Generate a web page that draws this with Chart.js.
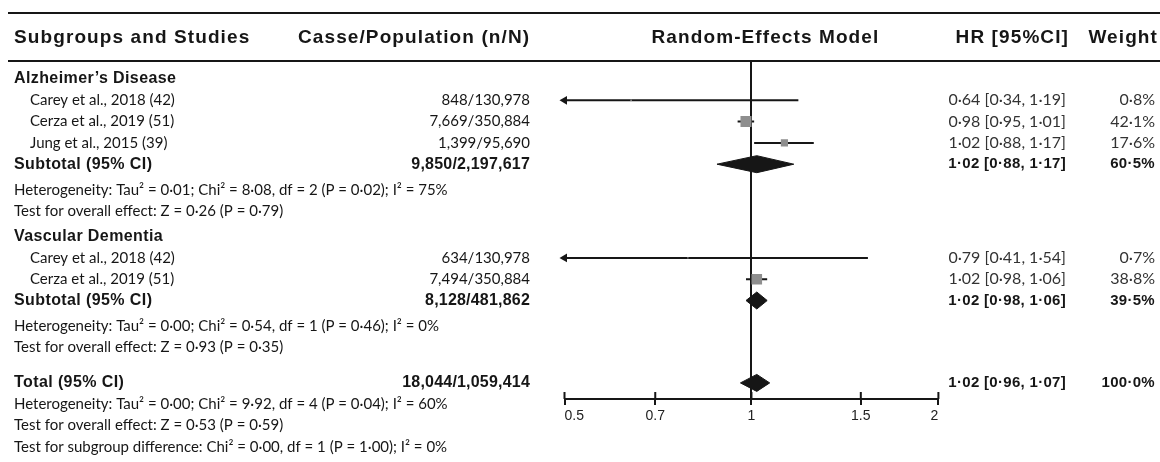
<!DOCTYPE html>
<html>
<head>
<meta charset="utf-8">
<title>Forest plot</title>
<script src="https://cdn.jsdelivr.net/npm/chart.js@4.4.1/dist/chart.umd.min.js"></script>
<style>
  html, body { margin: 0; padding: 0; background: #fff; }
  #wrap { width: 1160px; height: 462px; }
</style>
</head>
<body>
<div id="wrap"><canvas id="forest" width="1160" height="462"></canvas></div>
<script>
// ---- data ----
var headers = ['Subgroups and Studies', 'Casse/Population (n/N)', 'Random-Effects Model', 'HR [95%CI]', 'Weight'];

var groupNames = ['Alzheimer\u2019s Disease', 'Vascular Dementia'];
var groupCases = ['9,850/2,197,617', '8,128/481,862'];
var groupHR = [1.02, 1.02];
var groupLow = [0.88, 0.98];
var groupHigh = [1.17, 1.06];
var groupHRText = ['1·02 [0·88, 1·17]', '1·02 [0·98, 1·06]'];
var groupWeightText = ['60·5%', '39·5%'];
var groupNotes = [
  ['Heterogeneity: Tau² = 0·01; Chi² = 8·08, df = 2 (P = 0·02); I² = 75%', 'Test for overall effect: Z = 0·26 (P = 0·79)'],
  ['Heterogeneity: Tau² = 0·00; Chi² = 0·54, df = 1 (P = 0·46); I² = 0%', 'Test for overall effect: Z = 0·93 (P = 0·35)']
];

var studyNames = ['Carey et al., 2018 (42)', 'Cerza et al., 2019 (51)', 'Jung et al., 2015 (39)', 'Carey et al., 2018 (42)', 'Cerza et al., 2019 (51)'];
var studyGroup = [0, 0, 0, 1, 1];
var studyCases = ['848/130,978', '7,669/350,884', '1,399/95,690', '634/130,978', '7,494/350,884'];
// plotted positions
var studyHR = [0.64, 0.98, 1.13, 0.79, 1.02];
var studyLow = [0.34, 0.95, 1.01, 0.41, 0.98];
var studyHigh = [1.19, 1.01, 1.26, 1.54, 1.06];
var studyWeight = [0.8, 42.1, 17.6, 0.7, 38.8];
var studyHRText = ['0·64 [0·34, 1·19]', '0·98 [0·95, 1·01]', '1·02 [0·88, 1·17]', '0·79 [0·41, 1·54]', '1·02 [0·98, 1·06]'];
var studyWeightText = ['0·8%', '42·1%', '17·6%', '0·7%', '38·8%'];

var totalLabel = 'Total (95% CI)';
var totalCases = '18,044/1,059,414';
var totalHR = 1.02, totalLow = 0.96, totalHigh = 1.07;
var totalHRText = '1·02 [0·96, 1·07]';
var totalWeightText = '100·0%';
var totalNotes = [
  'Heterogeneity: Tau² = 0·00; Chi² = 9·92, df = 4 (P = 0·04); I² = 60%',
  'Test for overall effect: Z = 0·53 (P = 0·59)',
  'Test for subgroup difference: Chi² = 0·00, df = 1 (P = 1·00); I² = 0%'
];

var tickValues = [0.5, 0.7, 1, 1.5, 2];
var tickLabels = ['0.5', '0.7', '1', '1.5', '2'];
var nullEffect = 1;

// ---- layout ----
var W = 1160, H = 462;
var TOP_RULE_Y = 13, HEADER_Y = 38;
var AREA_TOP = 61, AREA_BOTTOM = 399;
var FIRST_ROW_PX = 79, PITCH = 21.3;
var GAP_AFTER_SUB = 4.5 / PITCH, GAP_GROUP = 4 / PITCH, GAP_TOTAL = 14 / PITCH;
var PLOT_LEFT = 564.5, PLOT_RIGHT = 938.4;
var COL_NAME = 14, COL_STUDY = 30, COL_CASES = 530, COL_HR = 1066, COL_WEIGHT = 1155;
var DIAMOND_HALF = 8.5 / PITCH;

var HEAD_FONT = 'bold 19px "Liberation Sans"', HEAD_SPACING = '1.1px';
var BOLD_FONT = 'bold 16px "Liberation Sans"', BOLD_SPACING = '0.4px';
var BOLD_NUM_FONT = 'bold 15px "Liberation Sans"';
var BODY_FONT = '15px Lato';
var NUM_FONT = '16px Lato';
var INK = '#161616';

// build the table rows (v = row position in pitch units)
var rows = [];
var pos = 0;
function addRow(r, extra) { pos += extra || 0; r.v = pos; rows.push(r); pos += 1; return r; }

var studyRows = [], groupRows = [];
groupNames.forEach(function(g, gi) {
  addRow({kind: 'group', left: g}, gi > 0 ? GAP_GROUP : 0);
  studyNames.forEach(function(s, si) {
    if (studyGroup[si] !== gi) return;
    studyRows[si] = addRow({kind: 'study', left: s, cases: studyCases[si], hr: studyHRText[si], weight: studyWeightText[si]});
  });
  groupRows[gi] = addRow({kind: 'sub', left: 'Subtotal (95% CI)', cases: groupCases[gi], hr: groupHRText[gi], weight: groupWeightText[gi]});
  groupNotes[gi].forEach(function(n, ni) { addRow({kind: 'note', left: n}, ni === 0 ? GAP_AFTER_SUB : 0); });
});
var totalRow = addRow({kind: 'sub', left: totalLabel, cases: totalCases, hr: totalHRText, weight: totalWeightText}, GAP_TOTAL);
totalNotes.forEach(function(n) { addRow({kind: 'note', left: n}); });

// ---- datasets ----
var datasets = [];
datasets.push({
  label: 'studies',
  data: studyHR.map(function(h, i) { return {x: h, y: studyRows[i].v}; }),
  pointStyle: 'rect',
  pointRadius: studyWeight.map(function(w) { return 1.7 * Math.sqrt(w) / Math.SQRT2; }),
  backgroundColor: '#8e8e8e',
  borderWidth: 0
});
studyHR.forEach(function(h, i) {
  datasets.push({
    label: 'ci' + i,
    data: [{x: studyLow[i], y: studyRows[i].v}, {x: studyHigh[i], y: studyRows[i].v}],
    showLine: true, borderColor: INK, borderWidth: 2, pointRadius: 0
  });
});
datasets.push({
  label: 'arrows',
  data: studyLow.map(function(l, i) { return l < tickValues[0] ? {x: tickValues[0], y: studyRows[i].v} : null; }).filter(Boolean),
  pointStyle: 'triangle', rotation: -90, pointRadius: 5,
  backgroundColor: INK, borderColor: INK, borderWidth: 0, clip: false
});
function diamond(lo, est, hi, v) {
  return [{x: lo, y: v}, {x: est, y: v - DIAMOND_HALF}, {x: hi, y: v}, {x: est, y: v + DIAMOND_HALF}, {x: lo, y: v}];
}
groupHR.forEach(function(h, gi) {
  datasets.push({
    label: 'sub' + gi, data: diamond(groupLow[gi], h, groupHigh[gi], groupRows[gi].v),
    showLine: true, fill: 'shape', backgroundColor: INK, borderColor: INK, borderWidth: 1, pointRadius: 0, tension: 0
  });
});
datasets.push({
  label: 'total', data: diamond(totalLow, totalHR, totalHigh, totalRow.v),
  showLine: true, fill: 'shape', backgroundColor: INK, borderColor: INK, borderWidth: 1, pointRadius: 0, tension: 0
});

// ---- table text, rules and upper tick halves ----
function text(ctx, s, x, y, font, align, spacing, color) {
  ctx.font = font;
  ctx.letterSpacing = spacing || '0px';
  ctx.textAlign = align;
  ctx.fillStyle = color || INK;
  ctx.fillText(s, x, y);
}

var tablePlugin = {
  id: 'forestTable',
  afterDraw: function(chart) {
    var ctx = chart.ctx, ys = chart.scales.y, xs = chart.scales.x, area = chart.chartArea;
    ctx.save();
    ctx.textBaseline = 'middle';
    ctx.fillStyle = INK;
    ctx.fillRect(8, TOP_RULE_Y - 1, W - 8, 2);
    ctx.fillRect(8, area.top - 1, W - 8, 2);

    text(ctx, headers[0], COL_NAME, HEADER_Y, HEAD_FONT, 'left', HEAD_SPACING);
    text(ctx, headers[1], 298, HEADER_Y, HEAD_FONT, 'left', HEAD_SPACING);
    text(ctx, headers[2], (PLOT_LEFT + PLOT_RIGHT) / 2 + 14, HEADER_Y, HEAD_FONT, 'center', HEAD_SPACING);
    text(ctx, headers[3], COL_HR + 3, HEADER_Y, HEAD_FONT, 'right', HEAD_SPACING);
    text(ctx, headers[4], COL_WEIGHT + 3, HEADER_Y, HEAD_FONT, 'right', HEAD_SPACING);

    rows.forEach(function(r) {
      var py = ys.getPixelForValue(r.v);
      if (r.kind === 'group') {
        text(ctx, r.left, COL_NAME, py, BOLD_FONT, 'left', BOLD_SPACING);
      } else if (r.kind === 'study') {
        text(ctx, r.left, COL_STUDY, py, BODY_FONT, 'left');
        text(ctx, r.cases, COL_CASES, py, BODY_FONT, 'right');
        text(ctx, r.hr, COL_HR, py, NUM_FONT, 'right', '0px', '#333');
        text(ctx, r.weight, COL_WEIGHT, py, NUM_FONT, 'right', '0px', '#333');
      } else if (r.kind === 'sub') {
        text(ctx, r.left, COL_NAME, py, BOLD_FONT, 'left', BOLD_SPACING);
        text(ctx, r.cases, COL_CASES, py, BOLD_FONT, 'right', '0.2px');
        text(ctx, r.hr, COL_HR, py, BOLD_NUM_FONT, 'right', '0.3px');
        text(ctx, r.weight, COL_WEIGHT, py, BOLD_NUM_FONT, 'right', '0.3px');
      } else {
        text(ctx, r.left, COL_NAME, py, BODY_FONT, 'left');
      }
    });

    ctx.fillStyle = INK;
    xs.ticks.forEach(function(t) {
      var px = xs.getPixelForValue(t.value);
      ctx.fillRect(px - 1, area.bottom - 7, 2, 7);
    });
    ctx.restore();
  }
};

var X_TICK_LEN = 6, X_TICK_PAD = 3, X_TICK_SIZE = 14;
var xAxisHeight = X_TICK_LEN + X_TICK_SIZE * 1.2 + 2 * X_TICK_PAD;

new Chart(document.getElementById('forest'), {
  type: 'scatter',
  data: {datasets: datasets},
  plugins: [tablePlugin],
  options: {
    responsive: false,
    animation: false,
    events: [],
    devicePixelRatio: 1,
    layout: {padding: {left: PLOT_LEFT, right: W - PLOT_RIGHT, top: AREA_TOP, bottom: H - AREA_BOTTOM - xAxisHeight}},
    plugins: {legend: {display: false}, tooltip: {enabled: false}},
    scales: {
      x: {
        type: 'logarithmic',
        min: tickValues[0],
        max: tickValues[tickValues.length - 1],
        afterBuildTicks: function(scale) {
          scale.ticks = tickValues.map(function(v) { return {value: v}; });
        },
        border: {display: true, color: INK, width: 2},
        grid: {
          drawOnChartArea: true,
          drawTicks: true,
          tickLength: X_TICK_LEN,
          tickWidth: 2,
          tickColor: INK,
          lineWidth: 2,
          color: function(c) { return c.tick && c.tick.value === nullEffect ? INK : 'rgba(0,0,0,0)'; }
        },
        ticks: {
          autoSkip: false,
          maxRotation: 0,
          align: 'inner',
          padding: X_TICK_PAD,
          color: '#222',
          font: {family: '"Liberation Sans"', size: X_TICK_SIZE},
          callback: function(value, index) { return tickLabels[index]; }
        }
      },
      y: {
        type: 'linear',
        display: false,
        reverse: true,
        min: (AREA_TOP - FIRST_ROW_PX) / PITCH,
        max: (AREA_BOTTOM - FIRST_ROW_PX) / PITCH
      }
    }
  }
});
</script>
</body>
</html>
